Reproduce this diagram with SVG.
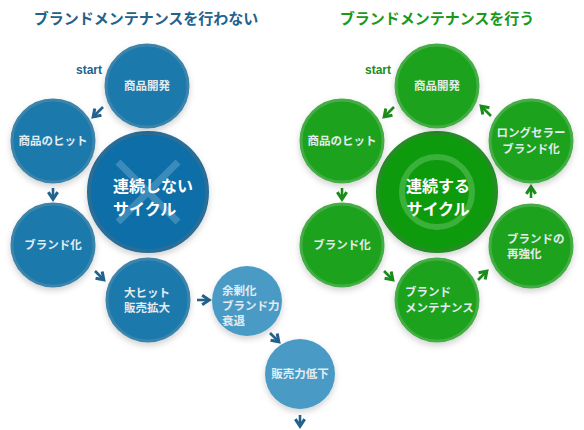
<svg xmlns="http://www.w3.org/2000/svg" width="584" height="430" viewBox="0 0 584 430">
<defs>
<filter id="sh" x="-30%" y="-30%" width="160%" height="170%">
<feDropShadow dx="0" dy="3" stdDeviation="3" flood-color="#000" flood-opacity="0.18"/>
</filter>
<marker id="ab" viewBox="0 0 10 10" refX="6" refY="5" markerWidth="4.5" markerHeight="4.5" orient="auto" markerUnits="strokeWidth">
<path d="M1,1 L7,5 L1,9" fill="none" stroke="#22628c" stroke-width="2.6"/>
</marker>
<marker id="ag" viewBox="0 0 10 10" refX="6" refY="5" markerWidth="4.5" markerHeight="4.5" orient="auto" markerUnits="strokeWidth">
<path d="M1,1 L7,5 L1,9" fill="none" stroke="#1a8c1a" stroke-width="2.6"/>
</marker>
</defs>
<style>
text{font-family:"Noto Sans CJK JP","Noto Sans",sans-serif;font-weight:bold}
.t{font-size:15px;text-anchor:middle}
.st{font-size:12px;font-family:"Liberation Sans",Arial,sans-serif}
.l{font-size:11.5px;fill:#e4ebf0}
.lc{font-size:11.5px;fill:#e4ebf0;text-anchor:middle}
.big{font-size:16px;fill:#fff}
.bc{fill:#1b79ab;stroke:#3d84ab;stroke-width:3;filter:url(#sh)}
.bl{fill:#4a9bc6;filter:url(#sh)}
.gc{fill:#1fa21f;stroke:#45ad45;stroke-width:3;filter:url(#sh)}
.ab{stroke:#22628c;stroke-width:2.6;fill:none;marker-end:url(#ab)}
.ag{stroke:#1a8c1a;stroke-width:2.6;fill:none;marker-end:url(#ag)}
</style>
<rect width="584" height="430" fill="#fff"/>
<text class="t" x="146" y="24" fill="#22628c">ブランドメンテナンスを行わない</text>
<text class="t" x="437" y="24" fill="#1a9a1a">ブランドメンテナンスを行う</text>
<text class="st" x="76" y="74" fill="#22628c">start</text>
<text class="st" x="365" y="74" fill="#1a8c1a">start</text>

<g id="connectors">
<path class="ab" d="M103,107 L94,116"/>
<path class="ab" d="M53,188 L53,198"/>
<path class="ab" d="M95,271 L103,279"/>
<path class="ab" d="M197,300 L208,300"/>
<path class="ab" d="M270,333 L278,341"/>
<path class="ab" d="M300,415 L300,425"/>
<path class="ag" d="M394,107 L385,116"/>
<path class="ag" d="M491,116 L482,107"/>
<path class="ag" d="M342,188 L342,198"/>
<path class="ag" d="M384,271 L392,279"/>
<path class="ag" d="M478,280 L486,272"/>
<path class="ag" d="M531,198 L531,188"/>
</g>

<g id="l-center">
<circle cx="148" cy="192" r="59" fill="#0a6ea8" stroke="#296d97" stroke-width="4" filter="url(#sh)"/>
<path d="M118,162 L178,222 M178,162 L118,222" stroke="#4a94c0" stroke-width="7" opacity="0.75"/>
<text class="big" x="113" y="192">連続しない</text>
<text class="big" x="113" y="215">サイクル</text>
</g>
<g id="l-dev"><circle class="bc" cx="147" cy="86" r="41"/><text class="lc" x="147" y="90">商品開発</text></g>
<g id="l-hit"><circle class="bc" cx="53" cy="141" r="41"/><text class="lc" x="53" y="145">商品のヒット</text></g>
<g id="l-brand"><circle class="bc" cx="53" cy="245" r="41"/><text class="lc" x="53" y="249">ブランド化</text></g>
<g id="l-bighit"><circle class="bc" cx="148" cy="300" r="41"/><text class="l" x="124" y="297">大ヒット</text><text class="l" x="124" y="312">販売拡大</text></g>
<g id="l-decline"><circle class="bl" cx="247" cy="301" r="35"/><text class="l" x="222" y="295">余剰化</text><text class="l" x="222" y="310">ブランド力</text><text class="l" x="222" y="325">衰退</text></g>
<g id="l-sales"><circle class="bl" cx="300" cy="374" r="35"/><text class="lc" x="300" y="378">販売力低下</text></g>

<g id="r-center">
<circle cx="437" cy="192" r="59" fill="#0f9b0f" stroke="#268c26" stroke-width="4" filter="url(#sh)"/>
<circle cx="437" cy="192" r="35" fill="none" stroke="#3bb13b" stroke-width="6"/>
<text class="big" x="438" y="192" text-anchor="middle">連続する</text>
<text class="big" x="438" y="215" text-anchor="middle">サイクル</text>
</g>
<g id="r-dev"><circle class="gc" cx="437" cy="86" r="41"/><text class="lc" x="437" y="90">商品開発</text></g>
<g id="r-hit"><circle class="gc" cx="342" cy="141" r="41"/><text class="lc" x="342" y="145">商品のヒット</text></g>
<g id="r-brand"><circle class="gc" cx="342" cy="245" r="41"/><text class="lc" x="342" y="249">ブランド化</text></g>
<g id="r-maint"><circle class="gc" cx="437" cy="300" r="41"/><text class="l" x="405" y="296">ブランド</text><text class="l" x="405" y="312">メンテナンス</text></g>
<g id="r-reinforce"><circle class="gc" cx="531" cy="246" r="41"/><text class="l" x="507" y="243">ブランドの</text><text class="l" x="507" y="258">再強化</text></g>
<g id="r-long"><circle class="gc" cx="531" cy="141" r="41"/><text class="lc" x="531" y="137">ロングセラー</text><text class="lc" x="531" y="153">ブランド化</text></g>
</svg>
